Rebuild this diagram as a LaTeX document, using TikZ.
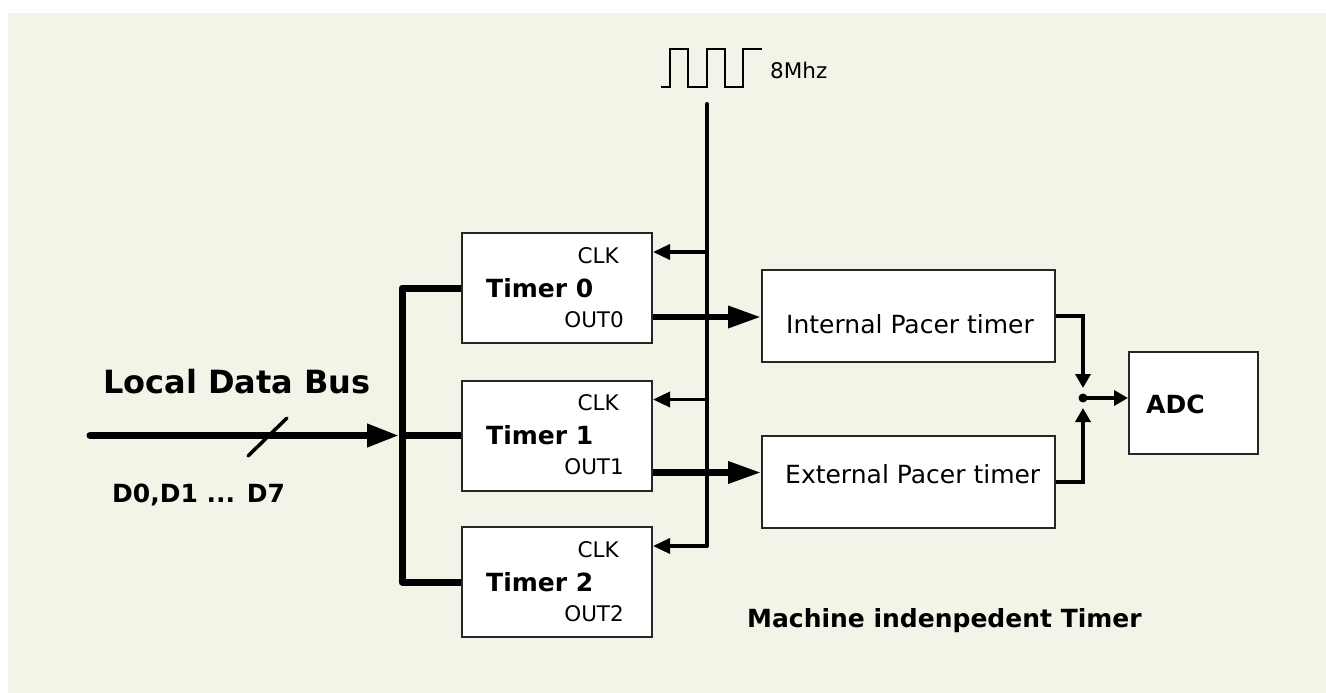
\documentclass[tikz,border=0pt]{standalone}
\usepackage{fontspec}
\setmainfont{DejaVu Sans}
\usetikzlibrary{positioning,arrows.meta}
\definecolor{panel}{RGB}{241,245,232}

\begin{document}
\begin{tikzpicture}[x=1pt, y=-1pt,
  tbox/.style={draw=black!85, line width=2pt, fill=white, inner sep=0pt,
               minimum width=190pt, minimum height=110pt},
  pbox/.style={draw=black!85, line width=2pt, fill=white, inner sep=0pt,
               minimum width=293pt, minimum height=92pt},
  txt/.style={inner sep=0pt, font=\fontsize{25}{30}\selectfont},
  btxt/.style={inner sep=0pt, font=\fontsize{25}{30}\selectfont\bfseries},
  stxt/.style={inner sep=0pt, font=\fontsize{21.5}{26}\selectfont},
  bus/.style={line width=7pt, line join=round},
  clk/.style={line width=4pt, line cap=round},
  clkin/.style={line width=3.5pt, -{Triangle[length=17pt, width=15pt]}},
  outarr/.style={line width=6.5pt, -{Triangle[length=33pt, width=21pt]}},
  sel/.style={line width=4pt, -{Triangle[length=14pt, width=15pt]}}]
  \useasboundingbox (0,0) rectangle (1326,693);
  \fill[panel] (8,13) rectangle (1326,693);

  % timers
  \node[tbox] (t0) at (557,288) {};
  \node[tbox, below=35.5pt of t0] (t1) {};
  \node[tbox, below=34.5pt of t1] (t2) {};
  \foreach \i in {0,1,2} {
    \node[stxt, anchor=base east] (clk\i) at ([xshift=-34pt, yshift=-31pt]t\i.north east) {CLK};
    \node[btxt, anchor=base west] (name\i) at ([xshift=25pt, yshift=-65pt]t\i.north west) {Timer \i};
    \node[stxt, anchor=base east] (out\i) at ([xshift=-29pt, yshift=-95pt]t\i.north east) {OUT\i};
  }

  % pacers and ADC
  \node[pbox, right=108pt of t0.east, yshift=-28pt] (ipt) {};
  \node[pbox, below=71.5pt of ipt] (ept) {};
  \node[txt, anchor=base west] (iptlbl) at ([xshift=25pt, yshift=-17pt]ipt.west) {Internal Pacer timer};
  \node[txt, anchor=base west] (eptlbl) at ([xshift=24pt, yshift=-1.5pt]ept.west) {External Pacer timer};
  \node[draw=black!85, line width=2pt, fill=white, inner sep=0pt,
        minimum width=129pt, minimum height=102pt] (adc) at (1193.5,403) {};
  \node[btxt, anchor=base west] (adclbl) at ([xshift=18pt, yshift=-10pt]adc.west) {ADC};
  \node[circle, fill=black, inner sep=0pt, minimum size=9pt] (jn) at (1083,398) {};

  % clock
  \draw[line width=1.5pt] (661,87) -- (670,87) -- (670,49) -- (688,49) -- (688,87)
    -- (707,87) -- (707,49) -- (725,49) -- (725,87) -- (743,87) -- (743,49) -- (762,49);
  \node[stxt, anchor=base west] (freq) at (770,78) {8Mhz};
  \coordinate (clktop) at (707,104);
  \foreach \i in {0,1,2} \coordinate (c\i) at ([yshift=36pt]t\i.east);
  \draw[clk] (clktop) -- (clktop |- c2);
  \foreach \i in {0,1,2} \draw[clkin] (clktop |- c\i) -- (c\i);

  % outputs
  \coordinate (o0) at ([yshift=-29pt]t0.east);
  \coordinate (o1) at ([yshift=-37pt]t1.east);
  \draw[outarr] (o0) -- (o0 -| ipt.west);
  \draw[outarr] (o1) -- (o1 -| ept.west);
  \draw[sel, shorten >=10pt] (ipt.east) -| (jn.center);
  \draw[sel, shorten >=10pt] (ept.east) -| (jn.center);
  \draw[sel] (jn.center) -- (jn.center -| adc.west);

  % bus
  \coordinate (busj) at ([xshift=-59pt]t1.west);
  \coordinate (busin) at ([xshift=-312pt]busj);
  \draw[bus] (t0.west) -| (busj) |- (t2.west);
  \draw[bus] (busj) -- (t1.west);
  \draw[bus, line cap=round, shorten >=3pt, -{Triangle[length=32pt, width=22pt]}] (busin) -- (busj);
  \draw[line width=3.5pt, line cap=round] (248,456) -- (287,418);
  \node[inner sep=0pt, font=\fontsize{32}{38}\selectfont\bfseries, anchor=base west] (buslbl) at (103,393) {Local Data Bus};
  \node[btxt, anchor=base west] (bitslbl) at (112,502) {D0,D1 ... D7};
  \node[btxt, anchor=base west] (title) at (747,627) {Machine indenpedent Timer};
\end{tikzpicture}
\end{document}
